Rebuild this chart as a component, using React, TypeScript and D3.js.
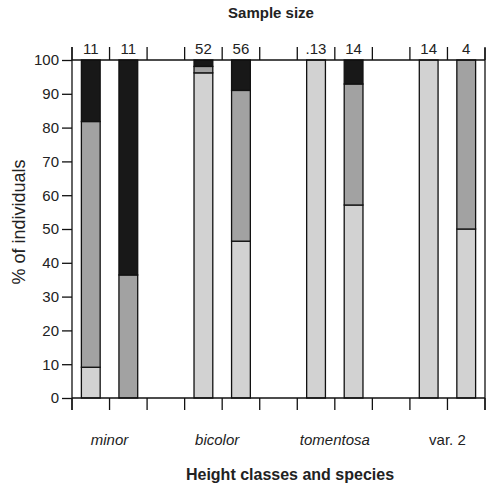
import * as d3 from "d3"
import { useEffect, useRef } from "react"

// 11 slots on the x axis, empty ones separate the species
const slots = ["m1", "m2", "g1", "b1", "b2", "g2", "t1", "t2", "g3", "v1", "v2"]
const bars = ["m1", "m2", "b1", "b2", "t1", "t2", "v1", "v2"]
const sampleSize = ["11", "11", "52", "56", ".13", "14", "14", "4"]
// percentages per height class, bottom to top
const lowClass = [9.1, 0, 96.2, 46.4, 100, 57.1, 100, 50]
const midClass = [72.7, 36.4, 1.9, 44.6, 0, 35.8, 0, 50]
const topClass = [18.2, 63.6, 1.9, 9.0, 0, 7.1, 0, 0]
const species = [
    { name: "minor", at: 1, italic: true },
    { name: "bicolor", at: 4, italic: true },
    { name: "tomentosa", at: 7, italic: true },
    { name: "var. 2", at: 10, italic: false },
]
const keys = ["low", "mid", "top"]
const colors = { low: "#d2d2d2", mid: "#a2a2a2", top: "#181818" }

const App = () => {
    const ref = useRef()

    useEffect(() => {
        const svg = d3.select(ref.current)
        svg.selectAll("*").remove()
        const left = 72, right = 485, top = 60, bottom = 398
        const font = "'Liberation Sans', Arial, sans-serif"

        const x = d3.scaleBand().domain(slots).range([left, right]).paddingInner(0).paddingOuter(0)
        const y = d3.scaleLinear().domain([0, 100]).range([bottom, top])

        const data = bars.map((b, i) => ({ bar: b, low: lowClass[i], mid: midClass[i], top: topClass[i] }))
        const series = d3.stack().keys(keys)(data)

        const bw = x.bandwidth() * 0.5
        const g = svg.append("g")
        series.forEach(s => {
            g.selectAll(null)
                .data(s.filter(p => p[1] - p[0] > 0))
                .join("rect")
                .attr("x", p => x(p.data.bar) + (x.bandwidth() - bw) / 2)
                .attr("width", bw)
                .attr("y", p => y(p[1]))
                .attr("height", p => y(p[0]) - y(p[1]))
                .attr("fill", colors[s.key])
                .attr("stroke", "#111")
                .attr("stroke-width", 1.3)
        })

        const tickX = d3.range(slots.length + 1).map(i => left + i * x.bandwidth())

        // frame
        svg.append("line").attr("x1", left).attr("x2", right).attr("y1", top).attr("y2", top)
            .attr("stroke", "#111").attr("stroke-width", 1.3)
        svg.append("line").attr("x1", right).attr("x2", right).attr("y1", top - 12).attr("y2", bottom + 12)
            .attr("stroke", "#111").attr("stroke-width", 1.3)

        // bottom axis
        svg.append("line").attr("x1", left).attr("x2", right).attr("y1", bottom).attr("y2", bottom)
            .attr("stroke", "#111").attr("stroke-width", 1.3)
        svg.selectAll(".bt").data(tickX).join("line")
            .attr("x1", d => d).attr("x2", d => d).attr("y1", bottom).attr("y2", bottom + 12)
            .attr("stroke", "#111").attr("stroke-width", 1.3)
        // top ticks
        svg.selectAll(".tt").data(tickX).join("line")
            .attr("x1", d => d).attr("x2", d => d).attr("y1", top).attr("y2", top - 13)
            .attr("stroke", "#111").attr("stroke-width", 1.3)

        // left axis
        const yAxis = svg.append("g").attr("transform", `translate(${left},0)`)
            .call(d3.axisLeft(y).tickValues(d3.range(0, 101, 10)).tickSize(10).tickPadding(3))
        yAxis.select(".domain").attr("stroke", "#111").attr("stroke-width", 1.3).attr("d", `M0,${bottom + 12}V${top - 13}`)
        yAxis.selectAll(".tick line").attr("stroke", "#111").attr("stroke-width", 1.3)
        yAxis.selectAll(".tick text").attr("font-family", font).attr("font-size", 15).attr("fill", "#222")

        // sample sizes
        svg.selectAll(".ss").data(bars).join("text")
            .attr("x", b => x(b) + x.bandwidth() / 2)
            .attr("y", top - 6)
            .attr("text-anchor", "middle")
            .attr("font-family", font).attr("font-size", 15).attr("fill", "#222")
            .text((b, i) => sampleSize[i])

        svg.selectAll(".sp").data(species).join("text")
            .attr("x", d => left + d.at * x.bandwidth() - (d.at === 4 ? 5 : 0))
            .attr("y", 445)
            .attr("text-anchor", "middle")
            .attr("font-family", font).attr("font-size", 15)
            .attr("font-style", d => d.italic ? "italic" : "normal")
            .attr("fill", "#222")
            .text(d => d.name)

        svg.append("text").attr("x", 271).attr("y", 18).attr("text-anchor", "middle")
            .attr("font-family", font).attr("font-size", 15).attr("font-weight", "bold").attr("fill", "#222")
            .text("Sample size")
        svg.append("text").attr("x", 290).attr("y", 480).attr("text-anchor", "middle")
            .attr("font-family", font).attr("font-size", 16).attr("font-weight", "bold").attr("fill", "#222")
            .text("Height classes and species")
        svg.append("text").attr("transform", "translate(25,222) rotate(-90)").attr("text-anchor", "middle")
            .attr("font-family", font).attr("font-size", 18).attr("fill", "#222")
            .text("% of individuals")
    }, [])

    return (
        <div style={{ position: "absolute", left: 0, top: 0 }}>
            <svg ref={ref} width={491} height={486} style={{ display: "block", background: "#fff" }}></svg>
        </div>
    )
}

export default App
